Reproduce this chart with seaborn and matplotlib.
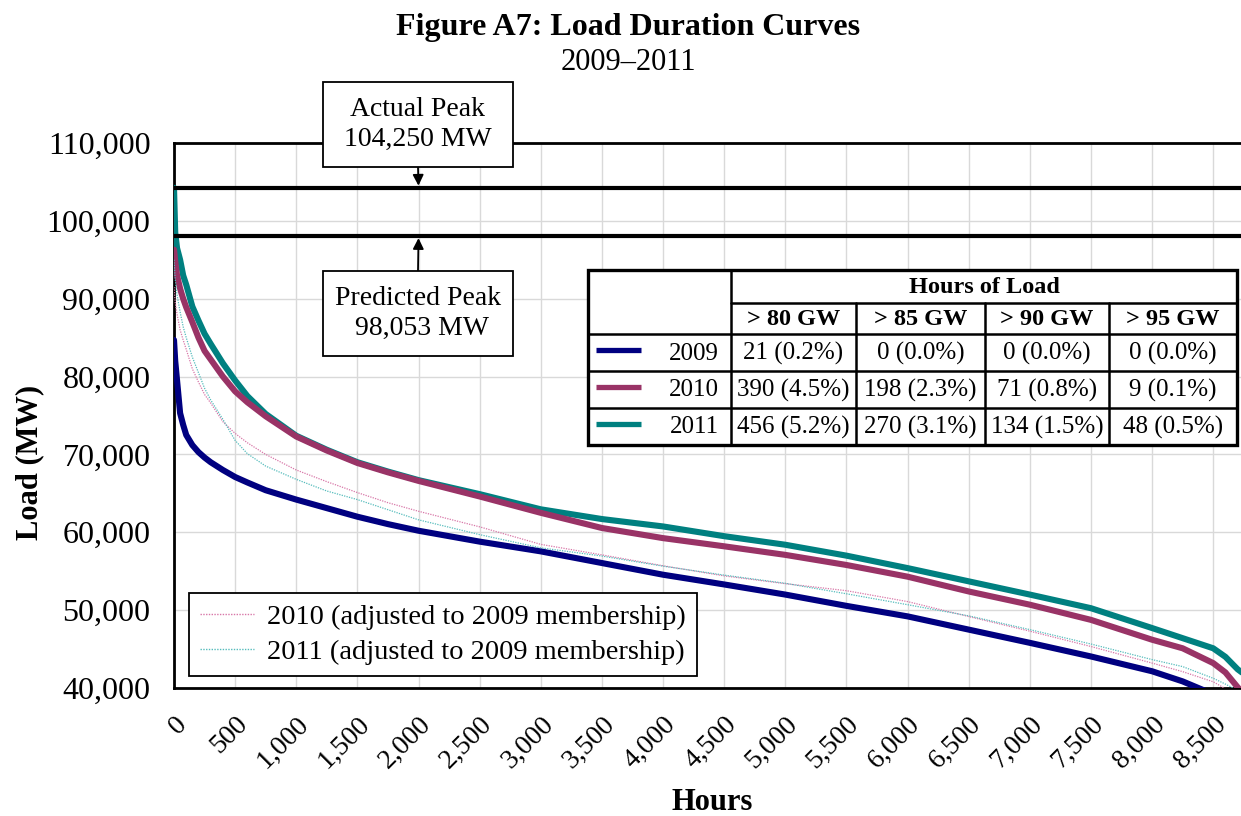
import matplotlib
matplotlib.use("Agg")
import matplotlib.pyplot as plt
from matplotlib.patches import Rectangle
from matplotlib.lines import Line2D
from matplotlib.ticker import FuncFormatter, MultipleLocator
import seaborn as sns

# ---- load duration data (MW by hours of the year, sorted high to low) ----
hours = [0, 10, 25, 50, 75, 100, 150, 200, 250, 300, 400, 500, 600, 750, 1000, 1250,
         1500, 1750, 2000, 2500, 3000, 3500, 4000, 4500, 5000, 5500, 6000, 6500, 7000,
         7500, 8000, 8250, 8500, 8600, 8700, 8760]

load_2009 = [84700, 82000, 79500, 75300, 73800, 72500, 71200, 70300, 69600, 69000,
             68000, 67100, 66400, 65400, 64200, 63100, 62000, 61050, 60200, 58800,
             57550, 56050, 54550, 53300, 52000, 50550, 49200, 47500, 45800, 44050,
             42150, 40850, 39200, 38500, 37500, 36500]
load_2010 = [96300, 94800, 93000, 91300, 90000, 88900, 87000, 85000, 83300, 82200,
             80000, 78100, 76700, 74900, 72300, 70500, 68900, 67700, 66600, 64600,
             62500, 60550, 59250, 58200, 57100, 55800, 54300, 52400, 50700, 48750,
             46200, 45100, 43200, 42000, 40100, 39000]
load_2011 = [104250, 98500, 96500, 95000, 93000, 91800, 89000, 87200, 85500, 84200,
             81700, 79500, 77500, 75200, 72400, 70600, 69000, 67800, 66700, 64900,
             62950, 61700, 60750, 59500, 58400, 57000, 55400, 53700, 52000, 50250,
             47700, 46400, 45100, 44000, 42400, 41700]
load_2010_adj = [91500, 89500, 88000, 86000, 84700, 83500, 81000, 79300, 77700, 76600,
                 74200, 72700, 71500, 70000, 68000, 66500, 65100, 63800, 62700, 60700,
                 58450, 57100, 55700, 54400, 53400, 52500, 51100, 49180, 47300, 45330,
                 43200, 42100, 40800, 39900, 39000, 38500]
load_2011_adj = [95000, 92500, 90500, 88300, 86400, 85000, 82500, 80500, 78500, 77000,
                 74500, 71800, 70100, 68500, 66800, 65300, 64200, 62900, 61600, 59700,
                 58000, 56950, 55650, 54500, 53450, 52100, 50700, 49270, 47500, 45650,
                 43650, 42750, 41250, 40500, 39700, 39000]

actual_peak = 104250
predicted_peak = 98053

# ---- hours-of-load table ----
years = ["2009", "2010", "2011"]
thresholds = ["> 80 GW", "> 85 GW", "> 90 GW", "> 95 GW"]
hours_over_2009 = [21, 0, 0, 0]
pct_over_2009 = [0.2, 0.0, 0.0, 0.0]
hours_over_2010 = [390, 198, 71, 9]
pct_over_2010 = [4.5, 2.3, 0.8, 0.1]
hours_over_2011 = [456, 270, 134, 48]
pct_over_2011 = [5.2, 3.1, 1.5, 0.5]

adj_labels = ["2010 (adjusted to 2009 membership)", "2011 (adjusted to 2009 membership)"]

# ---- styling ----
C2009, C2010, C2011 = "#000080", "#993366", "#008080"
C2010_ADJ, C2011_ADJ = "#d877a8", "#55bcbc"
DOTTED = (0, (1, 1))

sns.set_style("white")
plt.rcParams["font.family"] = ["Liberation Serif", "DejaVu Serif"]
for key in ("text.color", "axes.labelcolor", "xtick.color", "ytick.color"):
    plt.rcParams[key] = "black"

W, H = 1241, 816
fig = plt.figure(figsize=(W / 100, H / 100), dpi=100)
fig.patch.set_facecolor("white")


def fx(x):
    return x / W


def fy(y):
    return 1 - y / H


ax = fig.add_axes([fx(174), fy(688), (1245 - 174) / W, (688 - 143) / H])

# thick series, 2011 underneath so 2010 sits on top where they overlap
sns.lineplot(x=hours, y=load_2011, color=C2011, linewidth=4.4, ax=ax, zorder=3)
sns.lineplot(x=hours, y=load_2010, color=C2010, linewidth=4.4, ax=ax, zorder=4)
sns.lineplot(x=hours, y=load_2009, color=C2009, linewidth=4.4, ax=ax, zorder=4)
sns.lineplot(x=hours, y=load_2010_adj, color=C2010_ADJ, linewidth=0.9,
             linestyle=DOTTED, ax=ax, zorder=5)
sns.lineplot(x=hours, y=load_2011_adj, color=C2011_ADJ, linewidth=0.9,
             linestyle=DOTTED, ax=ax, zorder=5)

ax.axhline(actual_peak, color="black", linewidth=3.0, zorder=6)
ax.axhline(predicted_peak, color="black", linewidth=3.0, zorder=6)

ax.set_xlim(0, 8760)
ax.set_ylim(40000, 110000)
ax.xaxis.set_major_locator(MultipleLocator(500))
ax.yaxis.set_major_locator(MultipleLocator(10000))
thousands = FuncFormatter(lambda v, p: f"{v:,.0f}")
ax.xaxis.set_major_formatter(thousands)
ax.yaxis.set_major_formatter(thousands)
ax.grid(True, color="#d9d9d9", linewidth=1.0)
ax.set_axisbelow(True)
ax.set_xlabel("")
ax.set_ylabel("")

for side in ("left", "top", "bottom"):
    ax.spines[side].set_color("black")
    ax.spines[side].set_linewidth(2.0)
ax.spines["right"].set_visible(False)

ax.tick_params(axis="y", length=0, pad=17, labelsize=23, colors="black")
ax.tick_params(axis="x", length=0, pad=17, labelsize=20, colors="black")
for lab in ax.get_xticklabels():
    lab.set_rotation(45)
    lab.set_ha("right")
    lab.set_va("top")
    lab.set_rotation_mode("anchor")

# legend for the membership-adjusted curves
handles = [Line2D([], [], color=C2010_ADJ, lw=1.0, ls=DOTTED),
           Line2D([], [], color=C2011_ADJ, lw=1.0, ls=DOTTED)]
leg = ax.legend(handles, adj_labels, loc="lower left",
                bbox_to_anchor=((189 - 174) / 1071, (688 - 676) / 545),
                fontsize=20.5, frameon=True, fancybox=False, edgecolor="black",
                framealpha=1, handlelength=1.9, handletextpad=0.45,
                borderpad=0.4, labelspacing=0.3, borderaxespad=0)
leg.get_frame().set_linewidth(1.3)
leg.set_zorder(10)

# titles and axis labels
fig.text(fx(628), fy(28), "Figure A7: Load Duration Curves", ha="center", va="center",
         fontsize=23, fontweight="bold")
fig.text(fx(628), fy(62), "2009\u20132011", ha="center", va="center", fontsize=22)
fig.text(fx(30), fy(462), "Load (MW)", rotation=90, ha="center", va="center",
         fontsize=22, fontweight="bold")
fig.text(fx(712), fy(802), "Hours", ha="center", va="center", fontsize=22,
         fontweight="bold")


# peak call-out boxes with arrows pointing at the peak lines
def callout(x0, y0, x1, y1, text):
    fig.add_artist(Rectangle((fx(x0), fy(y1)), (x1 - x0) / W, (y1 - y0) / H,
                             transform=fig.transFigure, facecolor="white",
                             edgecolor="black", linewidth=1.3, zorder=20))
    fig.text(fx((x0 + x1) / 2), fy((y0 + y1) / 2), text, ha="center", va="center",
             fontsize=20, linespacing=1.3, zorder=21)


callout(323, 82, 513, 167, f"Actual Peak\n{actual_peak:,} MW")
callout(323, 271, 513, 356, f"Predicted Peak\n {predicted_peak:,} MW")
arrow = dict(arrowstyle="-|>", color="black", lw=1.3, mutation_scale=16,
             shrinkA=0, shrinkB=1.5)
ax.annotate("", xy=(2000, actual_peak), xycoords="data",
            xytext=(418, H - 167), textcoords="figure pixels", arrowprops=arrow,
            annotation_clip=False, zorder=7)
ax.annotate("", xy=(2000, predicted_peak), xycoords="data",
            xytext=(418, H - 271), textcoords="figure pixels", arrowprops=arrow,
            annotation_clip=False, zorder=7)

# hours-of-load table
tx0, tx1, ty0, ty1 = 588, 1237, 270, 445
tax = fig.add_axes([fx(tx0), fy(ty1), (tx1 - tx0) / W, (ty1 - ty0) / H])
tax.set_xlim(tx0, tx1)
tax.set_ylim(ty1, ty0)
tax.axis("off")
tax.add_patch(Rectangle((tx0, ty0), tx1 - tx0, ty1 - ty0, facecolor="white",
                        edgecolor="none"))
col_edges = [588, 731, 856, 985, 1109, 1237]
row_edges = [270, 303, 334, 371, 408, 445]
lw_in = 1.8
tax.plot([col_edges[1], tx1], [row_edges[1]] * 2, color="black", lw=lw_in)
for yy in row_edges[2:5]:
    tax.plot([tx0, tx1], [yy, yy], color="black", lw=lw_in)
tax.plot([col_edges[1]] * 2, [ty0, ty1], color="black", lw=lw_in)
for xx in col_edges[2:5]:
    tax.plot([xx, xx], [row_edges[1], ty1], color="black", lw=lw_in)
tax.add_patch(Rectangle((tx0, ty0), tx1 - tx0, ty1 - ty0, facecolor="none",
                        edgecolor="black", linewidth=2.4, clip_on=False))

tfs = 18
tax.text((col_edges[1] + tx1) / 2, (row_edges[0] + row_edges[1]) / 2 + 1,
         "Hours of Load", ha="center", va="center", fontsize=17.5, fontweight="bold")
for i, th in enumerate(thresholds):
    tax.text((col_edges[i + 1] + col_edges[i + 2]) / 2,
             (row_edges[1] + row_edges[2]) / 2 + 1, th, ha="center", va="center",
             fontsize=17.5, fontweight="bold")

table_rows = [(C2009, hours_over_2009, pct_over_2009),
              (C2010, hours_over_2010, pct_over_2010),
              (C2011, hours_over_2011, pct_over_2011)]
for r, (year, (col, hrs, pct)) in enumerate(zip(years, table_rows)):
    yc = (row_edges[r + 2] + row_edges[r + 3]) / 2
    tax.plot([596, 641], [yc - 3, yc - 3], color=col, lw=3.8, solid_capstyle="butt")
    tax.text(719, yc + 1, year, ha="right", va="center", fontsize=tfs)
    for i, (h, p) in enumerate(zip(hrs, pct)):
        tax.text((col_edges[i + 1] + col_edges[i + 2]) / 2, yc + 1, f"{h} ({p:.1f}%)",
                 ha="center", va="center", fontsize=tfs)

fig.savefig("out.png", dpi=100, facecolor="white")
